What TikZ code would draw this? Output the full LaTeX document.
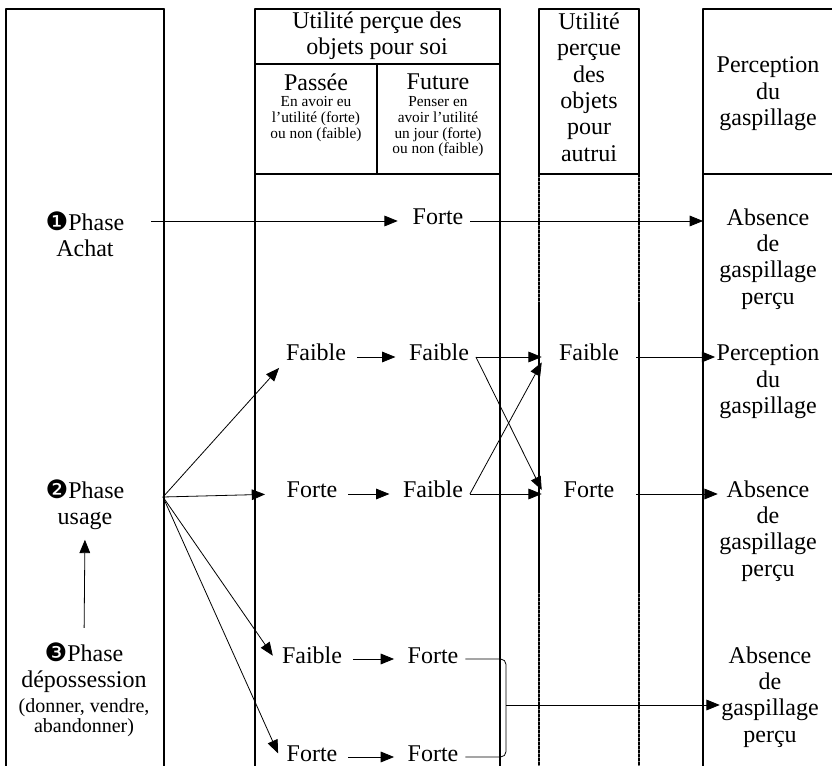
\documentclass[tikz,border=0pt]{standalone}
\usepackage{fontspec}
\setmainfont{Liberation Serif}
\newfontfamily\dingfont{DejaVu Sans}
\usepackage{tkz-euclide}
\usetikzlibrary{arrows.meta}
\tikzset{>={Triangle[length=10pt,width=8pt]}}
\tikzset{
  txt/.style={font=\fontsize{18}{19.8}\selectfont, align=center, inner sep=1pt},
  petit/.style={font=\fontsize{11.5}{11.8}\selectfont, align=center, inner sep=1pt},
  parenth/.style={font=\fontsize{15}{15}\selectfont, align=center, inner sep=1pt},
  val/.style={font=\fontsize{18}{19.8}\selectfont, text height=9pt, text depth=3pt, inner xsep=5pt, inner ysep=2pt},
  autrui/.style={val, inner xsep=0pt, minimum width=70.5pt},
  fleche/.style={->, line width=0.6pt},
  cadre/.style={line width=1.2pt}
}
\newcommand\numphase[1]{{\dingfont\fontsize{19}{19}\selectfont #1}}

\begin{document}
\begin{tikzpicture}[x=0.75pt, y=-0.75pt]
\useasboundingbox (0,0) rectangle (832,766);
\tkzDefPoints{6/9/A1, 164/9/A2, 6/780/A3, 164/780/A4}
\tkzDefPoints{255/9/B1, 500/9/B2, 255/780/B3, 500/780/B4, 255/64/B5, 500/64/B6, 255/174/B7, 500/174/B8, 377/64/B9, 377/174/B10}
\tkzDefPoints{539/9/C1, 639/9/C2, 539/174/C3, 639/174/C4, 539/305/C5, 639/305/C6, 539/590/C7, 639/590/C8, 539/780/C9, 639/780/C10}
\tkzDefPoints{703/9/D1, 840/9/D2, 703/174/D3, 840/174/D4, 703/780/D5}
\tkzDrawSegments[cadre](A1,A2 A1,A3 A2,A4)
\tkzDrawSegments[cadre](B1,B2 B1,B3 B2,B4 B5,B6 B7,B8 B9,B10)
\tkzDrawSegments[cadre](C1,C2 C1,C3 C2,C4 C3,C4)
\tkzDrawSegments[line width=1pt](C5,C7 C6,C8)
\tkzDrawSegments[line width=1pt, dash pattern=on 2pt off 1pt](C3,C5 C4,C6 C7,C9 C8,C10)
\tkzDrawSegments[cadre](D1,D2 D1,D5 D3,D4)

\node[txt] (hdSoi) at (377,36) {Utilité perçue des\\objets pour soi};
\node[txt] (passee) at (316,82) {Passée};
\node[petit] (passeeTxt) at (316,119) {En avoir eu\\l’utilité (forte)\\ou non (faible)};
\node[txt] (future) at (438,82) {Future};
\node[petit] (futureTxt) at (438,127) {Penser en\\avoir l’utilité\\un jour (forte)\\ou non (faible)};
\node[txt] (hdAutrui) at (589,87) {Utilité\\perçue\\des\\objets\\pour\\autrui};
\node[txt] (hdGasp) at (768,94) {Perception\\du\\gaspillage};

\node[txt] (ph1) at (85,234) {\numphase{❶}Phase\\Achat};
\node[txt] (ph2) at (85,505) {\numphase{❷}Phase\\usage};
\node[txt] (ph3) at (84,668) {\numphase{❸}Phase\\dépossession};
\node[parenth] (ph3s) at (84,718) {(donner, vendre,\\abandonner)};

\node[val] (forteA) at (438,221) {Forte};
\node[txt] (abs1) at (768,259) {Absence\\de\\gaspillage\\perçu};
\node[val] (faibleP2) at (316,357) {Faible};
\node[val] (faibleF2) at (439,357) {Faible};
\node[autrui] (faibleAu) at (589,357) {Faible};
\node[txt] (percep) at (768,382) {Perception\\du\\gaspillage};
\node[val] (forteP3) at (312,494) {Forte};
\node[val] (faibleF3) at (433,494) {Faible};
\node[autrui] (forteAu) at (589,494) {Forte};
\node[txt] (abs2) at (768,531) {Absence\\de\\gaspillage\\perçu};
\node[val] (faibleP4) at (312,659) {Faible};
\node[val] (forteF4) at (433,659) {Forte};
\node[txt] (abs3) at (770,697) {Absence\\de\\gaspillage\\perçu};
\node[val] (forteP5) at (312,757) {Forte};
\node[val] (forteF5) at (433,757) {Forte};
\coordinate (fan) at (163,497);
\coordinate (brk) at (506,705);

\draw[fleche, shorten <=19pt, shorten >=6pt] (ph1.east |- forteA) -- (forteA.west);
\draw[fleche] (forteA.east) -- (forteA -| D1);
\draw[fleche] (fan) -- (faibleP2.south west);
\draw[fleche, shorten >=11pt] (fan) -- (forteP3.west);
\draw[fleche, shorten >=3pt] (fan) -- (faibleP4.west);
\draw[fleche, shorten >=3pt] (fan) -- (forteP5.west);
\draw[fleche, shorten <=3pt, shorten >=5pt] (faibleP2.east) -- (faibleF2.west);
\draw[fleche, shorten <=3pt, shorten >=5pt] (forteP3.east) -- (faibleF3.west);
\draw[fleche, shorten <=3pt, shorten >=5pt] (faibleP4.east) -- (forteF4.west);
\draw[fleche, shorten <=3pt, shorten >=5pt] (forteP5.east) -- (forteF5.west);
\draw[fleche] (faibleF2.east) -- (faibleAu.west);
\draw[fleche] (faibleF2.east) -- ([yshift=3pt]forteAu.west);
\draw[fleche] (faibleF3.east) -- (forteAu.west);
\draw[fleche] (faibleF3.east) -- ([yshift=-4pt]faibleAu.west);
\draw[fleche] (faibleAu.east) -- (faibleAu -| percep.west);
\draw[fleche] (forteAu.east) -- (forteAu -| abs2.west);
\draw[line width=0.6pt, rounded corners=4pt] (forteF4.east) -| (brk) |- (forteF5.east);
\draw[fleche] (brk) -- (brk -| abs3.west);
\draw[fleche, shorten <=10pt, shorten >=6pt] (ph3.north) -- (ph2.south);
\end{tikzpicture}
\end{document}
